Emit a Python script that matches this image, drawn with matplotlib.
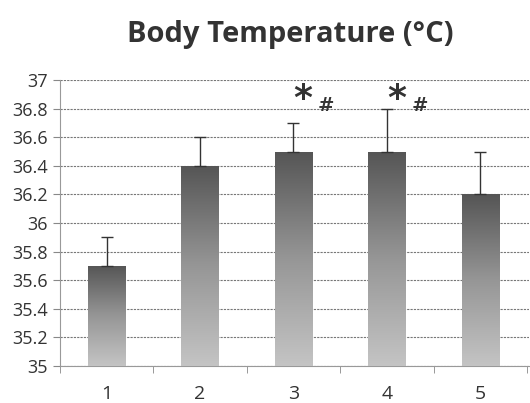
import matplotlib
matplotlib.use("Agg")
import matplotlib.pyplot as plt
import numpy as np
from matplotlib.colors import LinearSegmentedColormap

groups = ['1', '2', '3', '4', '5']
temps = [35.7, 36.4, 36.5, 36.5, 36.2]
errs = [0.2, 0.2, 0.2, 0.3, 0.3]
marked = [2, 3]  # bars with * and #

plt.rcParams['font.family'] = ['Open Sans', 'DejaVu Sans']

fig = plt.figure(figsize=(5.3, 4.03), dpi=100)
ax = fig.add_axes([0.113, 0.092, 0.885, 0.709])

x = np.arange(len(groups))
bars = ax.bar(x, [t - 35 for t in temps], bottom=35, width=0.4,
              color='none', edgecolor='none', zorder=3)

cmap = LinearSegmentedColormap.from_list('g', ['#c4c4c4', '#969696', '#555555'])
grad = np.linspace(0, 1, 256).reshape(-1, 1)
for b in bars:
    x0, y0 = b.get_x(), b.get_y()
    w, h = b.get_width(), b.get_height()
    im = ax.imshow(grad, cmap=cmap, aspect='auto', origin='lower',
                   extent=[x0, x0 + w, y0, y0 + h], zorder=3)
    im.set_clip_path(b)

ax.errorbar(x, temps, yerr=[[0] * len(errs), errs], fmt='none',
            ecolor='#333333', elinewidth=1, capsize=4, capthick=1, zorder=4)

for i in marked:
    ax.text(x[i] + 0.1, 36.87, '*', fontsize=26, fontweight='bold',
            ha='center', va='center', color='#333333', family='DejaVu Sans')
    ax.text(x[i] + 0.35, 36.82, '#', fontsize=14, fontweight='bold',
            ha='center', va='center', color='#333333', family='DejaVu Serif')

ax.set_xlim(-0.5, 4.52)
ax.set_ylim(35, 37)
ax.set_yticks(np.arange(35, 37.01, 0.2))
ax.set_yticklabels(['35', '35.2', '35.4', '35.6', '35.8', '36',
                    '36.2', '36.4', '36.6', '36.8', '37'])
ax.yaxis.grid(True, linestyle=(0, (2, 1)), color='#777777', linewidth=0.8, zorder=0)
ax.set_axisbelow(True)

ax.set_xticks(x)
ax.set_xticklabels(groups)
ax.tick_params(axis='x', length=0, pad=14, labelsize=14, colors='#333333')
ax.set_xticks(np.arange(-0.5, 5, 1), minor=True)
ax.tick_params(axis='x', which='minor', length=5, color='#888888')
ax.tick_params(axis='y', length=5, direction='out', labelsize=13,
               color='#888888', labelcolor='#333333')

for s in ['top', 'right']:
    ax.spines[s].set_visible(False)
ax.spines['left'].set_color('#999999')
ax.spines['bottom'].set_color('#999999')

fig.text(0.547, 0.915, 'Body Temperature (\u00b0C)', ha='center', va='center',
         fontsize=21, fontweight='bold', color='#333333')

fig.savefig('out.png', dpi=100)
